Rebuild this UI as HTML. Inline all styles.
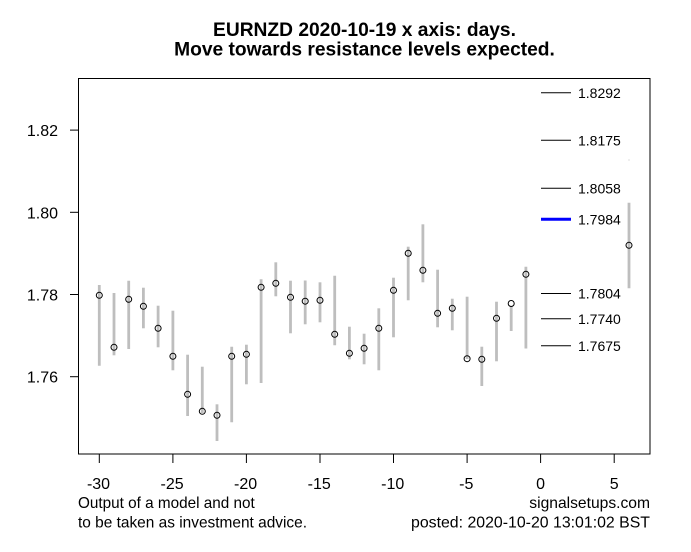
<!DOCTYPE html>
<html><head><meta charset="utf-8"><style>
html,body{margin:0;padding:0;background:#fff;}
svg{display:block;font-family:"Liberation Sans",Arial,sans-serif;}
</style></head><body>
<svg width="691" height="552" viewBox="0 0 691 552" xmlns="http://www.w3.org/2000/svg">
<rect width="691" height="552" fill="#fff"/>
<text x="364.5" y="36" font-size="19.2" font-weight="bold" text-anchor="middle">EURNZD 2020-10-19 x axis: days.</text>
<text x="364.5" y="55.5" font-size="19.2" font-weight="bold" text-anchor="middle">Move towards resistance levels expected.</text>
<rect x="78.5" y="78.5" width="571.5" height="375.5" fill="none" stroke="#000" stroke-width="1"/>
<g stroke="#000" stroke-width="1">
<line x1="70" y1="130.1" x2="78.5" y2="130.1"/>
<line x1="70" y1="212.3" x2="78.5" y2="212.3"/>
<line x1="70" y1="294.5" x2="78.5" y2="294.5"/>
<line x1="70" y1="376.7" x2="78.5" y2="376.7"/>
<line x1="99.3" y1="454" x2="99.3" y2="463"/>
<line x1="172.9" y1="454" x2="172.9" y2="463"/>
<line x1="246.4" y1="454" x2="246.4" y2="463"/>
<line x1="320" y1="454" x2="320" y2="463"/>
<line x1="393.5" y1="454" x2="393.5" y2="463"/>
<line x1="467.1" y1="454" x2="467.1" y2="463"/>
<line x1="540.6" y1="454" x2="540.6" y2="463"/>
<line x1="614.2" y1="454" x2="614.2" y2="463"/>
</g>
<g font-size="16" text-anchor="end">
<text x="58" y="136.1">1.82</text>
<text x="58" y="218.3">1.80</text>
<text x="58" y="300.5">1.78</text>
<text x="58" y="382.7">1.76</text>
</g>
<g font-size="16" text-anchor="middle">
<text x="98.5" y="489">-30</text>
<text x="172.1" y="489">-25</text>
<text x="245.6" y="489">-20</text>
<text x="319.2" y="489">-15</text>
<text x="392.7" y="489">-10</text>
<text x="466.3" y="489">-5</text>
<text x="540.6" y="489">0</text>
<text x="614.2" y="489">5</text>
</g>
<g font-size="16">
<text x="78" y="508" textLength="176.7" lengthAdjust="spacingAndGlyphs">Output of a model and not</text>
<text x="78" y="527.5" textLength="229" lengthAdjust="spacingAndGlyphs">to be taken as investment advice.</text>
<text x="529.3" y="508" textLength="120.7" lengthAdjust="spacingAndGlyphs">signalsetups.com</text>
<text x="411" y="527.5" textLength="239" lengthAdjust="spacingAndGlyphs">posted: 2020-10-20 13:01:02 BST</text>
</g>
<g stroke="#bebebe" stroke-width="2.8">
<line x1="99.3" y1="285" x2="99.3" y2="365.7"/>
<line x1="114" y1="293" x2="114" y2="355.3"/>
<line x1="128.7" y1="280.7" x2="128.7" y2="349"/>
<line x1="143.4" y1="287.7" x2="143.4" y2="328.3"/>
<line x1="158.1" y1="305.7" x2="158.1" y2="347.3"/>
<line x1="172.9" y1="310.7" x2="172.9" y2="370.3"/>
<line x1="187.6" y1="354.7" x2="187.6" y2="416"/>
<line x1="202.3" y1="366.7" x2="202.3" y2="413"/>
<line x1="217" y1="404.3" x2="217" y2="441"/>
<line x1="231.7" y1="346.7" x2="231.7" y2="422.3"/>
<line x1="246.4" y1="344.7" x2="246.4" y2="384.3"/>
<line x1="261.1" y1="279.3" x2="261.1" y2="383"/>
<line x1="275.8" y1="262.3" x2="275.8" y2="296.3"/>
<line x1="290.5" y1="280.7" x2="290.5" y2="333.3"/>
<line x1="305.2" y1="280.5" x2="305.2" y2="324.3"/>
<line x1="320" y1="282.3" x2="320" y2="322.3"/>
<line x1="334.7" y1="275.7" x2="334.7" y2="345.3"/>
<line x1="349.4" y1="326.7" x2="349.4" y2="359.3"/>
<line x1="364.1" y1="333.7" x2="364.1" y2="364.3"/>
<line x1="378.8" y1="308.3" x2="378.8" y2="370.3"/>
<line x1="393.5" y1="277.7" x2="393.5" y2="337.3"/>
<line x1="408.2" y1="246.7" x2="408.2" y2="300.3"/>
<line x1="422.9" y1="224.3" x2="422.9" y2="282.3"/>
<line x1="437.6" y1="269.7" x2="437.6" y2="327.3"/>
<line x1="452.3" y1="298.7" x2="452.3" y2="330.3"/>
<line x1="467.1" y1="296.7" x2="467.1" y2="359"/>
<line x1="481.8" y1="346.7" x2="481.8" y2="386"/>
<line x1="496.5" y1="301.7" x2="496.5" y2="361.3"/>
<line x1="511.2" y1="306" x2="511.2" y2="331"/>
<line x1="525.9" y1="266.7" x2="525.9" y2="348.5"/>
<line x1="629" y1="202.7" x2="629" y2="288.3"/>
</g>
<rect x="628.5" y="159.5" width="1" height="1" fill="#bebebe"/>
<g fill="none" stroke="#000" stroke-width="1">
<circle cx="99.3" cy="295.3" r="3"/>
<circle cx="114" cy="347.3" r="3"/>
<circle cx="128.7" cy="299.3" r="3"/>
<circle cx="143.4" cy="306.3" r="3"/>
<circle cx="158.1" cy="328.3" r="3"/>
<circle cx="172.9" cy="356.3" r="3"/>
<circle cx="187.6" cy="394.3" r="3"/>
<circle cx="202.3" cy="411.3" r="3"/>
<circle cx="217" cy="415.3" r="3"/>
<circle cx="231.7" cy="356.3" r="3"/>
<circle cx="246.4" cy="354.3" r="3"/>
<circle cx="261.1" cy="287.3" r="3"/>
<circle cx="275.8" cy="283.3" r="3"/>
<circle cx="290.5" cy="297.3" r="3"/>
<circle cx="305.2" cy="301.2" r="3"/>
<circle cx="320" cy="300.3" r="3"/>
<circle cx="334.7" cy="334.3" r="3"/>
<circle cx="349.4" cy="353.3" r="3"/>
<circle cx="364.1" cy="348.3" r="3"/>
<circle cx="378.8" cy="328.3" r="3"/>
<circle cx="393.5" cy="290.3" r="3"/>
<circle cx="408.2" cy="253.3" r="3"/>
<circle cx="422.9" cy="270.3" r="3"/>
<circle cx="437.6" cy="313.3" r="3"/>
<circle cx="452.3" cy="308.3" r="3"/>
<circle cx="467.1" cy="358.7" r="3"/>
<circle cx="481.8" cy="359.3" r="3"/>
<circle cx="496.5" cy="318.3" r="3"/>
<circle cx="511.2" cy="303.5" r="3"/>
<circle cx="525.9" cy="274.3" r="3"/>
<circle cx="629" cy="245.3" r="3"/>
</g>
<g stroke="#000" stroke-width="1">
<line x1="541" y1="92.8" x2="571" y2="92.8"/>
<line x1="541" y1="140.3" x2="571" y2="140.3"/>
<line x1="541" y1="188.3" x2="571" y2="188.3"/>
<line x1="541" y1="293.5" x2="571" y2="293.5"/>
<line x1="541" y1="318.8" x2="571" y2="318.8"/>
<line x1="541" y1="345.8" x2="571" y2="345.8"/>
</g>
<line x1="541" y1="219.2" x2="571" y2="219.2" stroke="#0000ff" stroke-width="3"/>
<g font-size="14">
<text x="578" y="98">1.8292</text>
<text x="578" y="145.5">1.8175</text>
<text x="578" y="193.5">1.8058</text>
<text x="578" y="224.4">1.7984</text>
<text x="578" y="298.7">1.7804</text>
<text x="578" y="324">1.7740</text>
<text x="578" y="351">1.7675</text>
</g>
</svg>
</body></html>
